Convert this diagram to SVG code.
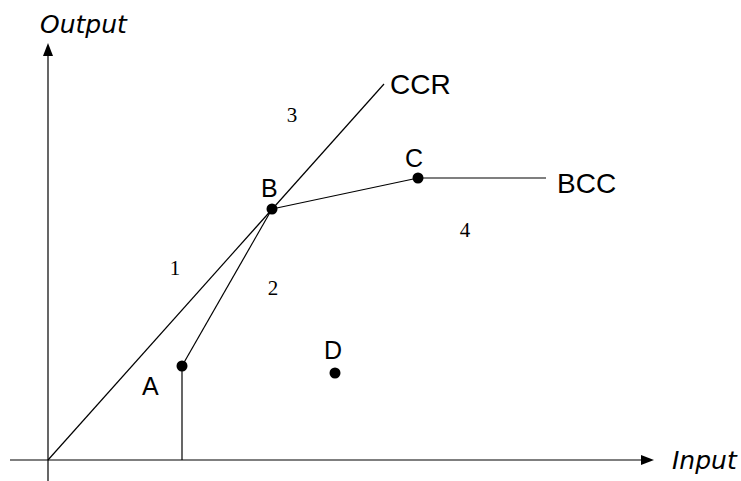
<svg xmlns="http://www.w3.org/2000/svg" width="741" height="481" viewBox="0 0 741 481">
<style>
.ax{stroke:#000;stroke-width:1.2;fill:none}
.ln{stroke:#000;stroke-width:1.2;fill:none}
.axl{font-family:"DejaVu Sans",sans-serif;font-style:italic;font-size:25px;fill:#000}
.lbl{font-family:"Liberation Sans",Arial,sans-serif;font-size:25px;fill:#000}
.big{font-family:"Liberation Sans",Arial,sans-serif;font-size:28px;fill:#000}
.num{font-family:"Liberation Serif","Times New Roman",serif;font-size:21px;fill:#000;text-anchor:middle}
.dot{fill:#000}
</style>
<rect width="741" height="481" fill="#fff"/>
<g id="axes">
<line class="ax" x1="48" y1="481" x2="48" y2="54"/>
<polygon points="48,43 43,56 53,56" fill="#000"/>
<line class="ax" x1="10" y1="460" x2="643" y2="460"/>
<polygon points="654,460 641,455 641,465" fill="#000"/>
<text class="axl" x="40" y="33">Output</text>
<text class="axl" x="672" y="469">Input</text>
</g>
<g id="connectors">
<line class="ln" x1="48" y1="460" x2="384" y2="84"/>
<line class="ln" x1="182" y1="366" x2="272" y2="209"/>
<line class="ln" x1="272" y1="209" x2="418" y2="178"/>
<line class="ln" x1="418" y1="178" x2="546" y2="178"/>
<line class="ln" x1="182" y1="366" x2="182" y2="460"/>
</g>
<g id="A"><circle class="dot" cx="182" cy="366" r="5.5"/><text class="lbl" x="142" y="395">A</text></g>
<g id="B"><circle class="dot" cx="272" cy="209" r="5.5"/><text class="lbl" x="261" y="197">B</text></g>
<g id="C"><circle class="dot" cx="418" cy="178" r="5.5"/><text class="lbl" x="405" y="167">C</text></g>
<g id="D"><circle class="dot" cx="335" cy="373" r="5.5"/><text class="lbl" x="324" y="359">D</text></g>
<g id="CCR"><text class="big" x="390" y="94">CCR</text></g>
<g id="BCC"><text class="big" x="557" y="193">BCC</text></g>
<g id="regions">
<text class="num" x="292" y="122">3</text>
<text class="num" x="465" y="237">4</text>
<text class="num" x="175" y="275">1</text>
<text class="num" x="273" y="295">2</text>
</g>
</svg>
